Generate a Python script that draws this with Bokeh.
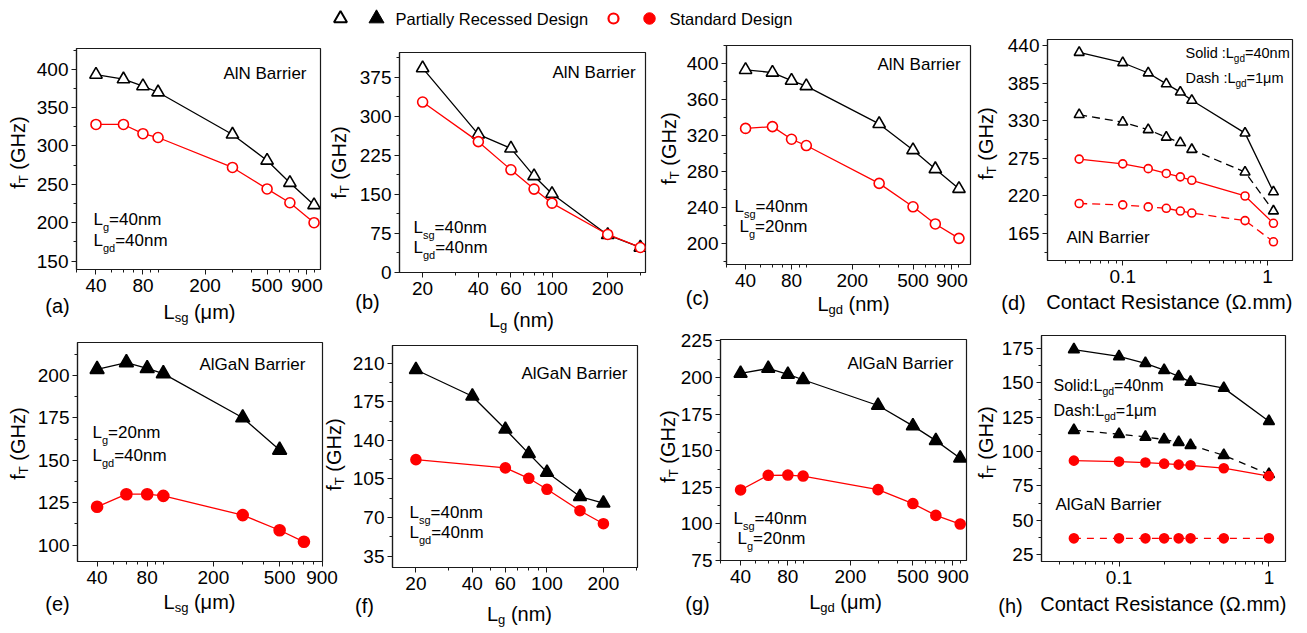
import math
from bokeh.plotting import figure
from bokeh.layouts import column, row
from bokeh.models import Range1d, FixedTicker, SingleIntervalTicker, Label, GridBox, Spacer
from bokeh.embed import file_html
from bokeh.resources import INLINE

FONT = "Liberation Sans"
BLACK = "#000000"
RED = "#ff0000"

# ------------------------------------------------------------------ data
# (a) AlN barrier, f_T vs L_sg
a_x = [40, 60, 80, 100, 300, 500, 700, 1000]
a_pr = [393, 387, 378, 370, 315, 281, 252, 223]
a_std = [328, 328, 316, 311, 272, 244, 226, 200]
# (b) AlN barrier, f_T vs L_g
b_x = [20, 40, 60, 80, 100, 200, 300]
b_pr = [392, 265, 238, 185, 151, 72, 48]
b_std = [327, 251, 197, 160, 133, 73, 48]
# (c) AlN barrier, f_T vs L_gd
c_x = [40, 60, 80, 100, 300, 500, 700, 1000]
c_pr = [393, 390, 381, 375, 333, 304, 283, 261]
c_std = [328, 330, 316, 309, 267, 241, 222, 206]
# (d) AlN barrier, f_T vs contact resistance
d_x = [0.05, 0.1, 0.15, 0.2, 0.25, 0.3, 0.7, 1.1]
d_pr_solid = [430, 415, 400, 384, 372, 360, 312, 226]
d_pr_dash = [339, 328, 317, 306, 298, 288, 255, 198]
d_std_solid = [274, 267, 260, 253, 248, 243, 220, 180]
d_std_dash = [209, 207, 204, 202, 198, 195, 184, 153]
# (e) AlGaN barrier, f_T vs L_sg
e_x_pr = [40, 60, 80, 100, 300, 500]
e_pr = [203.5, 207.5, 204, 201, 175, 156]
e_x_std = [40, 60, 80, 100, 300, 500, 700]
e_std = [122.6, 130, 130, 129, 117.7, 108.8, 102]
# (f) AlGaN barrier, f_T vs L_g
f_x_pr = [20, 40, 60, 80, 100, 150, 200]
f_pr = [204, 180, 150, 128, 111, 89, 83]
f_x_std = [20, 60, 80, 100, 150, 200]
f_std = [122.5, 115, 105.6, 95.6, 76.2, 64.4]
# (g) AlGaN barrier, f_T vs L_gd
g_x = [40, 60, 80, 100, 300, 500, 700, 1000]
g_pr = [202.8, 206.2, 202.1, 198.5, 180.9, 167, 156.9, 144.9]
g_std = [123.2, 133.2, 133.4, 132.7, 123.4, 113.9, 105.8, 99.9]
# (h) AlGaN barrier, f_T vs contact resistance
h_x = [0.05, 0.1, 0.15, 0.2, 0.25, 0.3, 0.5, 1.0]
h_pr_solid = [174, 169, 164, 159, 154.5, 150.5, 146, 122]
h_pr_dash = [115.5, 112.6, 110.6, 108.7, 106.8, 104.6, 97.3, 83.5]
h_std_solid = [93.4, 92.7, 92, 91.2, 90.5, 90, 87.9, 82.2]
h_std_dash = [37, 37, 37, 37, 37, 37, 37, 37]

# tick labels
ticks_len = [40, 80, 200, 500, 900]
ticks_lg = [20, 40, 60, 100, 200]
ticks_rc = [0.1, 1]

legend_labels = ["Partially Recessed Design", "Standard Design"]

# ------------------------------------------------------------------ text helpers
AW = {' ': 278, '(': 333, ')': 333, '.': 278, ':': 278, '=': 584, 'A': 667, 'B': 667,
      'C': 722, 'D': 722, 'G': 778, 'H': 722, 'L': 556, 'N': 722, 'R': 722, 'S': 667,
      'T': 611, 'a': 556, 'c': 500, 'd': 556, 'e': 556, 'f': 278, 'g': 556, 'h': 556,
      'i': 222, 'l': 222, 'm': 833, 'n': 556, 'o': 556, 'r': 333, 's': 500, 't': 278,
      'z': 500, 'μ': 576, 'Ω': 768}
for _d in "0123456789":
    AW[_d] = 556
MID = 0.3465  # em-box middle above the baseline


def tw(s, size):
    return sum(AW.get(c, 556) for c in s) * size / 1000.0


def rich(p, fr, segs, x, y, size, sub, drop, anchor="left", vertical=False, color=BLACK):
    """segs: list of (text, is_subscript).  Horizontal: x = start/centre, y = visual
    middle of the main text (page px).  Vertical: x = middle, y = centre/start."""
    fl, fb = fr
    widths = [tw(t, sub if s else size) for t, s in segs]
    total = sum(widths)
    off = {"left": 0, "center": total / 2, "right": total}[anchor]
    pos = (y + off) if vertical else (x - off)
    for (t, s), w in zip(segs, widths):
        fs = sub if s else size
        shift = (drop + MID * (size - fs)) if s else 0
        body = t.lstrip(" ")
        lead = tw(t[:len(t) - len(body)], fs)
        if vertical:
            lab = Label(x=(x + shift) - fl, y=fb - (pos - lead), angle=math.pi / 2)
            pos -= w
        else:
            lab = Label(x=pos + lead - fl, y=fb - (y + shift))
            pos += w
        lab.x_units = "screen"
        lab.y_units = "screen"
        lab.text = body
        lab.text_font = FONT
        lab.text_font_size = f"{fs}px"
        lab.text_color = color
        lab.text_align = "left"
        lab.text_baseline = "middle"
        p.add_layout(lab)


def log_minor(lo, hi, majors):
    out = []
    e = math.floor(math.log10(lo))
    while 10 ** e <= hi:
        for k in range(1, 10):
            v = round(k * 10 ** e, 6)
            if lo <= v <= hi and v not in majors:
                out.append(v)
        e += 1
    return out


def fmt(v):
    return str(int(v)) if float(v).is_integer() else str(v)


T_B, B_B = 10, 33   # common top / bottom borders inside one row


def panel(cell, frame, row_top, xr, yr, xt, yint):
    """cell = (x0, x1) page px; frame = (left, right, top, bottom) page px."""
    x0, x1 = cell
    fl, fr_, ft, fbm = frame
    w = x1 - x0
    h = (fbm - ft) + T_B + B_B
    dy = ft - T_B - row_top
    p = figure(width=w, height=h, x_axis_type="log",
               x_range=Range1d(*xr), y_range=Range1d(*yr),
               output_backend="svg", toolbar_location=None, title=None,
               min_border_left=fl - x0, min_border_right=x1 - fr_,
               min_border_top=T_B, min_border_bottom=B_B)
    p.xgrid.visible = False
    p.ygrid.visible = False
    p.outline_line_color = "#1a1a1a"
    p.outline_line_width = 1.2
    p.outline_line_alpha = 1
    p.background_fill_color = "white"
    p.border_fill_color = "white"
    p.xaxis.ticker = FixedTicker(ticks=xt, minor_ticks=log_minor(xr[0], xr[1], xt))
    p.xaxis.major_label_overrides = {v: fmt(v) for v in xt}
    p.yaxis.ticker = SingleIntervalTicker(interval=yint, num_minor_ticks=2)
    for ax in (p.xaxis[0], p.yaxis[0]):
        ax.axis_line_color = "#1a1a1a"
        ax.axis_line_width = 1.2
        ax.major_tick_line_color = "#1a1a1a"
        ax.minor_tick_line_color = "#1a1a1a"
        ax.major_tick_out = 5
        ax.major_tick_in = 0
        ax.minor_tick_out = 3
        ax.minor_tick_in = 0
        ax.major_label_text_font = FONT
        ax.major_label_text_font_size = "19px"
        ax.major_label_text_color = BLACK
    p.xaxis.major_label_standoff = 4
    p.yaxis.major_label_standoff = 3
    holder = column(Spacer(width=w, height=dy), p) if dy > 0 else column(p)
    return p, (fl, fbm), holder, dy + h


def series(p, x, y, color, marker, size, filled, dash="solid"):
    p.line(x, y, line_color=color, line_width=1.3, line_dash=dash)
    p.scatter(x, y, marker=marker, size=size, line_color=color, line_width=1.6,
              fill_color=color if filled else "white")


def note(p, fr, segs, x, ym, size=17, sub=11, drop=5, anchor="left"):
    rich(p, fr, segs, x, ym, size, sub, drop, anchor=anchor)


LSG = [("L", 0), ("sg", 1)]
LG = [("L", 0), ("g", 1)]
LGD = [("L", 0), ("gd", 1)]

PW, PH = 1305, 632          # whole page area

# ------------------------------------------------------------------ row 1
R1 = 0
pa, fa, ha, ba = panel((0, 328), (76, 320, 48, 269), R1, (30, 1100), (139, 427), ticks_len, 50)
series(pa, a_x, a_pr, BLACK, "triangle", 12.5, False)
series(pa, a_x, a_std, RED, "circle", 10, False)
note(pa, fa, [("AlN Barrier", 0)], 306, 73, anchor="right")
note(pa, fa, LG + [("=40nm", 0)], 93, 219)
note(pa, fa, LGD + [("=40nm", 0)], 93, 240)

pb, fb_, hb, bb = panel((328, 653), (399, 645, 52, 272), R1, (15, 320), (0, 422), ticks_lg, 75)
series(pb, b_x, b_pr, BLACK, "triangle", 12.5, False)
series(pb, b_x, b_std, RED, "circle", 10, False)
note(pb, fb_, [("AlN Barrier", 0)], 552, 72)
note(pb, fb_, LSG + [("=40nm", 0)], 413, 227)
note(pb, fb_, LGD + [("=40nm", 0)], 413, 247)

pc, fc, hc, bc = panel((653, 976), (726, 970, 45, 264), R1, (30, 1190), (177, 420), ticks_len, 40)
series(pc, c_x, c_pr, BLACK, "triangle", 12.5, False)
series(pc, c_x, c_std, RED, "circle", 10, False)
note(pc, fc, [("AlN Barrier", 0)], 877, 64)
note(pc, fc, LSG + [("=40nm", 0)], 734, 206)
note(pc, fc, LG + [("=20nm", 0)], 739, 226)

pd, fd, hd, bd = panel((976, 1305), (1047, 1292, 39, 260), R1, (0.0302, 1.49), (125.6, 449), ticks_rc, 55)
series(pd, d_x, d_pr_solid, BLACK, "triangle", 10, False)
series(pd, d_x, d_pr_dash, BLACK, "triangle", 10, False, dash="8 5")
series(pd, d_x, d_std_solid, RED, "circle", 8, False)
series(pd, d_x, d_std_dash, RED, "circle", 8, False, dash="8 5")
note(pd, fd, [("Solid :L", 0), ("gd", 1), ("=40nm", 0)], 1185, 52, size=14.5, sub=10, drop=4)
note(pd, fd, [("Dash :L", 0), ("gd", 1), ("=1μm", 0)], 1185, 77, size=14.5, sub=10, drop=4)
note(pd, fd, [("AlN Barrier", 0)], 1066, 237)

R2 = max(ba, bb, bc, bd)

# ------------------------------------------------------------------ row 2
pe, fe, he, be = panel((0, 341), (77, 322, 342, 561), R2, (30.5, 905), (90.4, 219.3), ticks_len, 25)
series(pe, e_x_pr, e_pr, BLACK, "triangle", 14, True)
series(pe, e_x_std, e_std, RED, "circle", 11, True)
note(pe, fe, [("AlGaN Barrier", 0)], 199, 364)
note(pe, fe, LG + [("=20nm", 0)], 92, 432)
note(pe, fe, LGD + [("=40nm", 0)], 92, 455)

pf, ff, hf, bf = panel((341, 645), (392, 637, 345, 567), R2, (15, 304), (24.7, 226), ticks_lg, 35)
series(pf, f_x_pr, f_pr, BLACK, "triangle", 13, True)
series(pf, f_x_std, f_std, RED, "circle", 10, True)
note(pf, ff, [("AlGaN Barrier", 0)], 521, 373)
note(pf, ff, LSG + [("=40nm", 0)], 409, 512)
note(pf, ff, LGD + [("=40nm", 0)], 409, 532)

pg, fg, hg, bg = panel((645, 972), (720, 966, 339, 560), R2, (29.8, 1097), (75, 226), ticks_len, 25)
series(pg, g_x, g_pr, BLACK, "triangle", 13, True)
series(pg, g_x, g_std, RED, "circle", 10, True)
note(pg, fg, [("AlGaN Barrier", 0)], 847, 363)
note(pg, fg, LSG + [("=40nm", 0)], 733, 518)
note(pg, fg, LG + [("=20nm", 0)], 737, 538)

ph, fh, hh, bh = panel((972, 1305), (1041, 1285, 335, 561), R2, (0.0304, 1.29), (20.2, 184.2), ticks_rc, 25)
series(ph, h_x, h_pr_solid, BLACK, "triangle", 11, True)
series(ph, h_x, h_pr_dash, BLACK, "triangle", 11, True, dash="7 6")
series(ph, h_x, h_std_solid, RED, "circle", 9, True)
series(ph, h_x, h_std_dash, RED, "circle", 9, True, dash="7 6")
note(ph, fh, [("Solid:L", 0), ("gd", 1), ("=40nm", 0)], 1053, 385, size=16, sub=10.5, drop=4)
note(ph, fh, [("Dash:L", 0), ("gd", 1), ("=1μm", 0)], 1053, 410, size=16, sub=10.5, drop=4)
note(ph, fh, [("AlGaN Barrier", 0)], 1055, 504)

# ------------------------------------------------------------------ overlay: axis titles, panel letters, legend
ov = figure(width=PW, height=PH, x_range=Range1d(0, PW), y_range=Range1d(0, PH),
            output_backend="svg", toolbar_location=None, title=None,
            x_axis_location=None, y_axis_location=None,
            min_border_left=0, min_border_right=0, min_border_top=0, min_border_bottom=0)
ov.grid.visible = False
ov.outline_line_color = None
ov.background_fill_color = None
ov.border_fill_color = None
OVF = (0, PH)  # frame left / bottom of overlay in page coords

ylabels = [(17, 152), (338, 162), (668, 148), (985, 143),
           (17, 443), (333, 454), (667, 446), (985, 442)]
for xm, yc in ylabels:
    rich(ov, OVF, [("f", 0), ("T", 1), (" (GHz)", 0)], xm, yc, 20, 13, 4,
         anchor="center", vertical=True)

xlabels = [(LSG + [(" (μm)", 0)], 199, 311),
           (LG + [(" (nm)", 0)], 521, 319),
           (LGD + [(" (nm)", 0)], 853, 303),
           ([("Contact Resistance (Ω.mm)", 0)], 1169, 301),
           (LSG + [(" (μm)", 0)], 199, 601),
           (LG + [(" (nm)", 0)], 519, 613),
           (LGD + [(" (μm)", 0)], 845, 601),
           ([("Contact Resistance (Ω.mm)", 0)], 1163, 603)]
for segs, xc, ym in xlabels:
    rich(ov, OVF, segs, xc, ym, 20, 13, 4, anchor="center")

letters = [("(a)", 57, 305), ("(b)", 367, 301), ("(c)", 697, 297), ("(d)", 1013, 302),
           ("(e)", 57, 603), ("(f)", 364, 605), ("(g)", 697, 603), ("(h)", 1010, 605)]
for s, xc, yc in letters:
    ov.add_layout(Label(x=xc, y=PH - yc, text=s, text_font=FONT, text_font_size="20px",
                        text_color=BLACK, text_align="center", text_baseline="middle"))

ky = PH - 18
ov.scatter([340], [ky], marker="triangle", size=13, line_color=BLACK, line_width=2, fill_color="white")
ov.scatter([376], [ky], marker="triangle", size=15, line_color=BLACK, line_width=1, fill_color=BLACK)
ov.scatter([613], [ky], marker="circle", size=10, line_color=RED, line_width=2.2, fill_color="white")
ov.scatter([649], [ky], marker="circle", size=11.5, line_color=RED, line_width=1, fill_color=RED)
for txt, lx in zip(legend_labels, [395, 669]):
    ov.add_layout(Label(x=lx, y=ky, text=txt, text_font=FONT, text_font_size="16.5px",
                        text_color=BLACK, text_align="left", text_baseline="middle"))

base = column(row(ha, hb, hc, hd), row(he, hf, hg, hh))
layout = GridBox(children=[(base, 0, 0), (ov, 0, 0)])
open("out.html", "w").write(file_html(layout, INLINE))
